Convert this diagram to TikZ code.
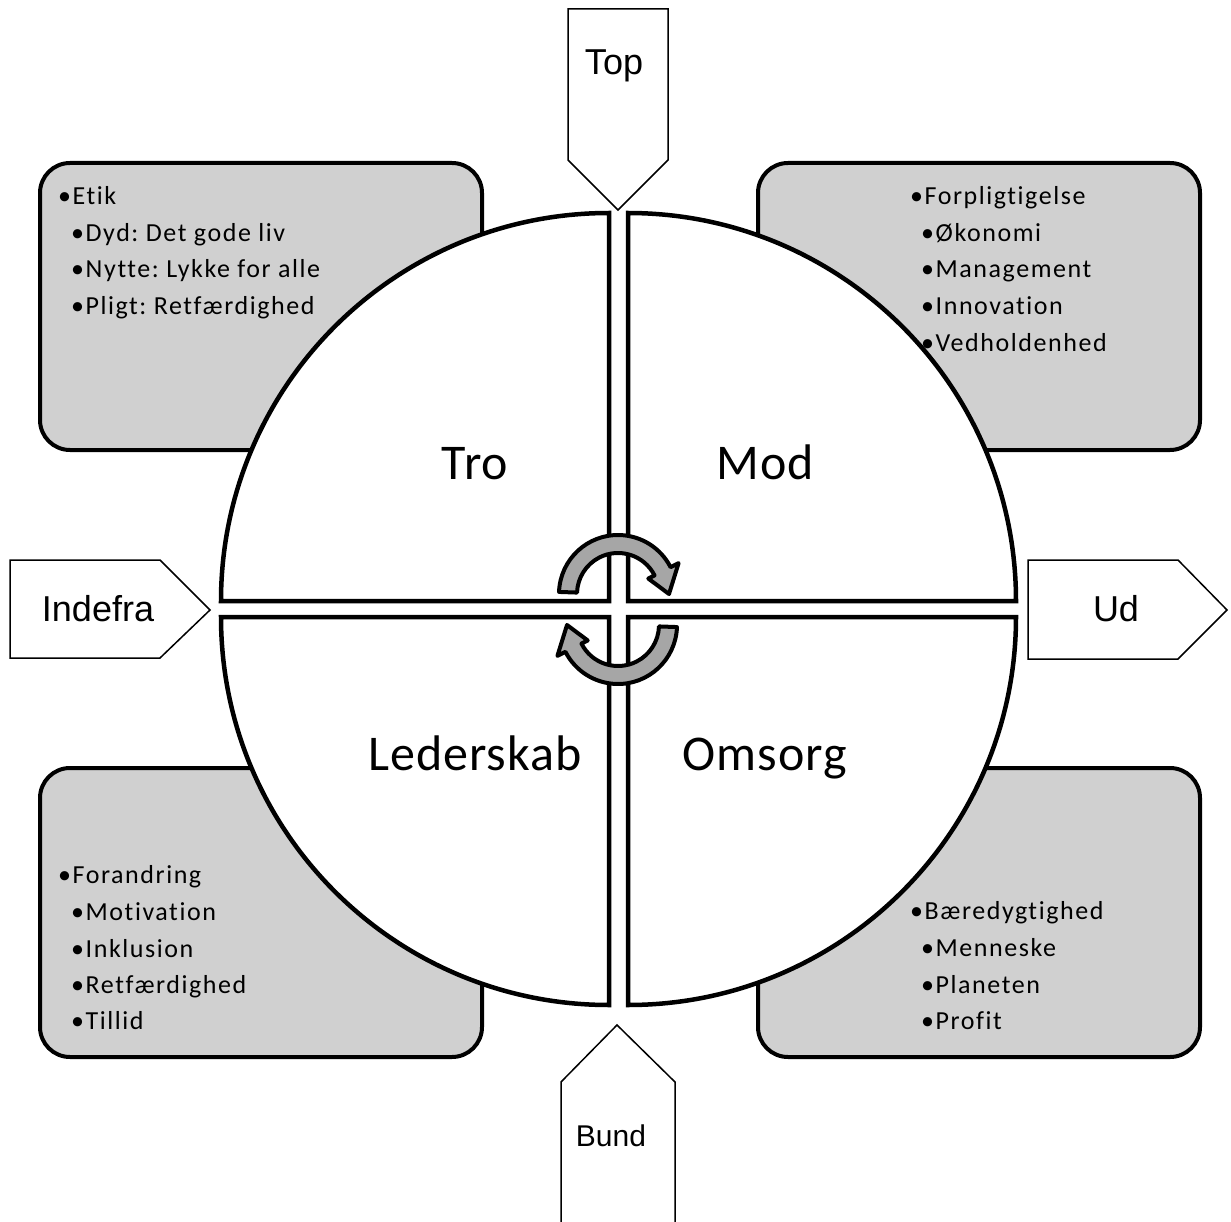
\documentclass[tikz,border=0pt]{standalone}
\usepackage{fontspec}
\setmainfont{Carlito}
\newfontfamily\itemfont[LetterSpace=6,Ligatures={NoCommon}]{Carlito}
\newfontfamily\labelfont[LetterSpace=2,Ligatures={NoCommon}]{Carlito}
\newfontfamily\arialfont{Liberation Sans}
\frenchspacing
\definecolor{boxgray}{RGB}{208,208,208}
\definecolor{arrowgray}{RGB}{166,166,166}
\tikzset{
  infobox/.style={fill=boxgray, draw=black, line width=4pt, rounded corners=30pt},
  quad/.style={fill=white, draw=black, line width=4.5pt, line join=miter},
  pointer/.style={fill=white, draw=black, line width=1.5pt, line join=miter},
  item/.style={anchor=base west, inner sep=0pt, font=\itemfont\fontsize{26}{31}\selectfont},
  biglabel/.style={anchor=base, inner sep=0pt, font=\labelfont\fontsize{50}{60}\selectfont},
  ptrlabel/.style={anchor=base, inner sep=0pt, font=\arialfont\fontsize{36}{43}\selectfont},
  ptrsmall/.style={anchor=base, inner sep=0pt, font=\arialfont\fontsize{30}{36}\selectfont},
  cyclearrow/.style={fill=arrowgray, draw=black, line width=4pt, line join=round},
}
\begin{document}
\begin{tikzpicture}[x=1pt,y=1pt]
\useasboundingbox (0,0) rectangle (1231,-1222);

% gray boxes
\draw[infobox] (40,-163) rectangle (482,-450);
\draw[infobox] (758,-163) rectangle (1200,-450);
\draw[infobox] (40,-768) rectangle (482,-1057);
\draw[infobox] (758,-768) rectangle (1200,-1057);

% pointer arrows
\draw[pointer] (568,-9) -- (668,-9) -- (668,-160) -- (618,-210) -- (568,-160) -- cycle;
\draw[pointer] (10,-560) -- (160,-560) -- (210,-610) -- (160,-658) -- (10,-658) -- cycle;
\draw[pointer] (1028,-560) -- (1178,-560) -- (1227,-610) -- (1178,-659) -- (1028,-659) -- cycle;
\fill[white] (561,-1230) -- (561,-1082) -- (617,-1025) -- (675,-1082) -- (675,-1230) -- cycle;
\draw[pointer] (561,-1230) -- (561,-1082) -- (617,-1025) -- (675,-1082) -- (675,-1230);

\node[ptrlabel] (top) at (614,-75) {Top};
\node[ptrlabel] (indefra) at (98,-621) {Indefra};
\node[ptrlabel] (ud) at (1116,-621) {Ud};
\node[ptrsmall] (bund) at (611,-1146) {Bund};

% quadrants
\draw[quad] (609,-601) -- (221,-601) arc[start angle=180, end angle=90, radius=388pt] -- cycle;
\draw[quad] (628,-601) -- (628,-213) arc[start angle=90, end angle=0, radius=388pt] -- cycle;
\draw[quad] (609,-617) -- (221,-617) arc[start angle=180, end angle=270, radius=388pt] -- cycle;
\draw[quad] (628,-617) -- (1016,-617) arc[start angle=0, end angle=-90, radius=388pt] -- cycle;

\node[biglabel] (tro) at (475,-479) {Tro};
\node[biglabel] (mod) at (765,-479) {Mod};
\node[biglabel] (lederskab) at (475,-770) {Lederskab};
\node[biglabel] (omsorg) at (765,-770) {Omsorg};

% circular arrows
\begin{scope}[shift={(618,-594)}]
\draw[cyclearrow] (178:59pt) arc[start angle=178, end angle=27, radius=59pt]
  -- (27:68pt) -- (0:51pt) -- (27:34pt) -- (27:41pt)
  arc[start angle=27, end angle=178, radius=41pt] -- cycle;
\end{scope}
\begin{scope}[shift={(618,-625)}, rotate=180]
\draw[cyclearrow] (178:59pt) arc[start angle=178, end angle=27, radius=59pt]
  -- (27:68pt) -- (0:51pt) -- (27:34pt) -- (27:41pt)
  arc[start angle=27, end angle=178, radius=41pt] -- cycle;
\end{scope}

% texts top-left
\node[item] (tl1) at (58,-205) {•Etik};
\node[item] (tl2) at (71,-241.5) {•Dyd: Det gode liv};
\node[item] (tl3) at (71,-278) {•Nytte: Lykke for alle};
\node[item] (tl4) at (71,-314.5) {•Pligt: Retfærdighed};
% top-right
\node[item] (tr1) at (910,-205) {•Forpligtigelse};
\node[item] (tr2) at (921,-242) {•Økonomi};
\node[item] (tr3) at (921,-278) {•Management};
\node[item] (tr4) at (921,-315) {•Innovation};
\node[item] (tr5) at (921,-352) {•Vedholdenhed};
% bottom-left
\node[item] (bl1) at (58,-883) {•Forandring};
\node[item] (bl2) at (71,-920) {•Motivation};
\node[item] (bl3) at (71,-957) {•Inklusion};
\node[item] (bl4) at (71,-993) {•Retfærdighed};
\node[item] (bl5) at (71,-1029) {•Tillid};
% bottom-right
\node[item] (br1) at (910,-919) {•Bæredygtighed};
\node[item] (br2) at (921,-956) {•Menneske};
\node[item] (br3) at (921,-993) {•Planeten};
\node[item] (br4) at (921,-1029) {•Profit};
\end{tikzpicture}
\end{document}
